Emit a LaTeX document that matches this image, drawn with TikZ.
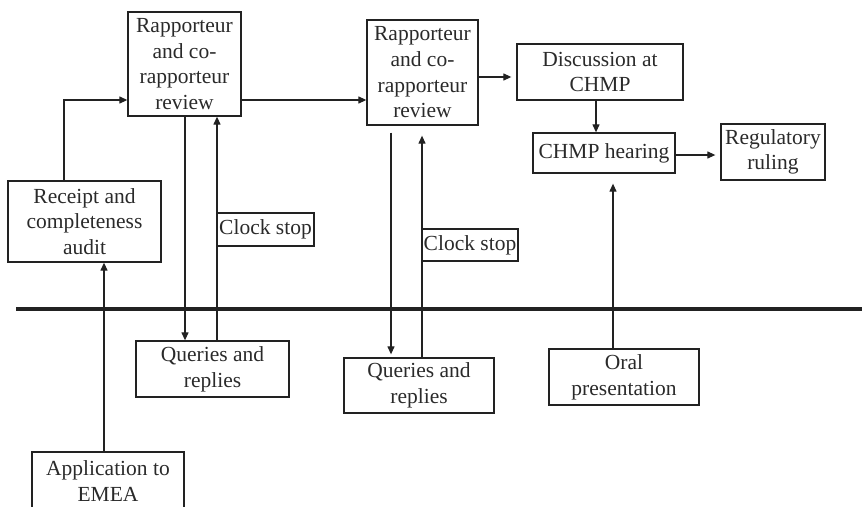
\documentclass[tikz,border=0pt]{standalone}
\usepackage{fontspec}
\setmainfont{Liberation Serif}
\usetikzlibrary{arrows.meta,calc}
\definecolor{ink}{HTML}{222222}
\definecolor{txt}{HTML}{2A2A2A}
\begin{document}
\begin{tikzpicture}[x=1pt,y=-1pt,
  box/.style={draw=ink,line width=1.3pt,align=center,inner sep=1pt,
    text=txt,font=\fontsize{21.5}{25.7}\selectfont},
  arr/.style={draw=ink,line width=1.2pt,-{Triangle[length=8pt,width=7pt]}},
  ln/.style={draw=ink,line width=1.2pt}]
\useasboundingbox (0,0) rectangle (862,506);
\clip (0,0) rectangle (862,506);

% boxes (positions in page units, origin top-left)
\node[box,minimum width=113pt,minimum height=104pt] (r1) at (184.5,64)
  {Rapporteur\\and co-\\rapporteur\\review};
\node[box,minimum width=153pt,minimum height=81pt] (rec) at (84.5,221.5)
  {Receipt and\\completeness\\audit};
\node[box,minimum width=97pt,minimum height=33pt] (cs1) at (265.5,229.5)
  {Clock stop};
\node[box,minimum width=153pt,minimum height=56pt] (q1) at (212.5,369)
  {Queries and\\replies};
\node[box,minimum width=152pt,minimum height=58pt] (app) at (108,481)
  {Application to\\EMEA};
\node[box,minimum width=111pt,minimum height=105pt] (r2) at (422.5,72.5)
  {Rapporteur\\and co-\\rapporteur\\review};
\node[box,minimum width=96pt,minimum height=32pt] (cs2) at (470,245)
  {Clock stop};
\node[box,minimum width=150pt,minimum height=55pt] (q2) at (419,385.5)
  {Queries and\\replies};
\node[box,minimum width=166pt,minimum height=56pt] (disc) at (600,72)
  {Discussion at\\CHMP};
\node[box,minimum width=142pt,minimum height=40pt] (hear) at (604,153)
  {CHMP hearing};
\node[box,minimum width=104pt,minimum height=56pt] (reg) at (773,152)
  {Regulatory\\ruling};
\node[box,minimum width=150pt,minimum height=56pt] (oral) at (624,377)
  {Oral\\presentation};

% dividing rule
\coordinate (divL) at (16,309);
\coordinate (divR) at (862,309);
\draw[draw=ink,line width=3.6pt] (divL) -- (divR);

% connectors
\draw[arr] (104,0 |- app.north) -- (104,0 |- rec.south);
\draw[arr] (64,0 |- rec.north) |- (r1.west |- 0,100);
\draw[arr] (r1.east |- 0,100) -- (r2.west |- 0,100);
\draw[arr] (185,0 |- r1.south) -- (185,0 |- q1.north);
\draw[arr] (217,0 |- q1.north) -- (217,0 |- r1.south);
\draw[arr,shorten <=7pt] (391,0 |- r2.south) -- ($(391,0 |- q2.north)+(0,-3)$);
\draw[arr,shorten >=10pt] (422,0 |- q2.north) -- (422,0 |- r2.south);
\draw[arr,shorten >=5pt] (r2.east |- 0,77) -- (disc.west |- 0,77);
\draw[arr] (596,0 |- disc.south) -- (596,0 |- hear.north);
\draw[arr,shorten >=5pt] (hear.east |- 0,155) -- (reg.west |- 0,155);
\draw[arr,shorten >=10pt] (613,0 |- oral.north) -- (613,0 |- hear.south);
\end{tikzpicture}
\end{document}
